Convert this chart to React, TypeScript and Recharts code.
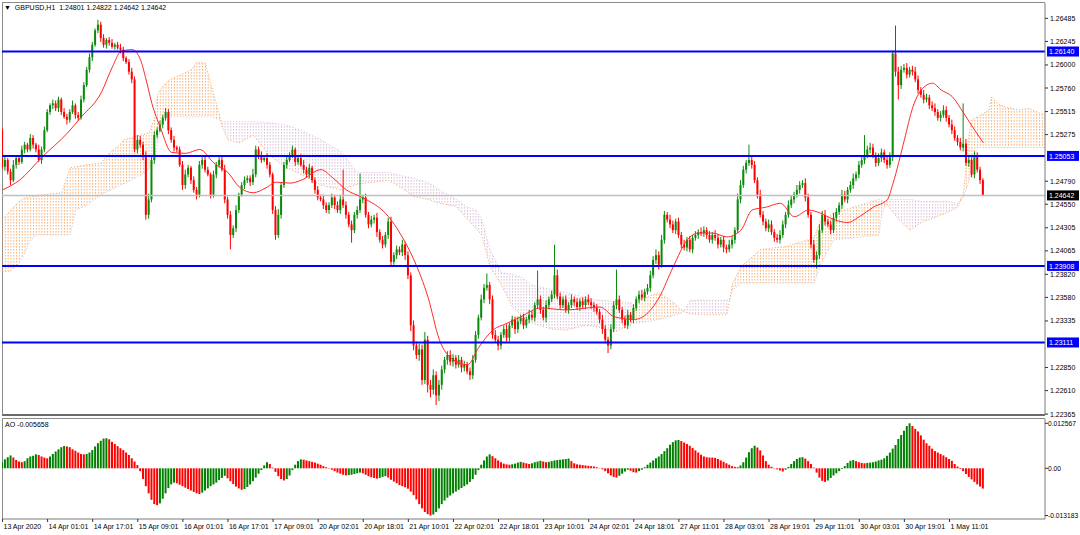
import React from 'react';
import { ComposedChart, Bar, Line, Area, XAxis, YAxis, ReferenceLine, Cell } from 'recharts';

// GBPUSD H1, 13 Apr 2020 - 1 May 2020
const firstOpen = 1.2532;

const closes = [
  1.2494, 1.2501, 1.2489, 1.2480, 1.2496, 1.2503, 1.2499, 1.2512, 1.2517, 1.2512, 1.2524, 1.2517, 1.2512, 1.2501, 1.2512, 1.2532, 1.2551, 1.2558, 1.2560, 1.2555,
  1.2564, 1.2551, 1.2546, 1.2543, 1.2551, 1.2558, 1.2548, 1.2545, 1.2564, 1.2579, 1.2595, 1.2608, 1.2621, 1.2636, 1.2642, 1.2628, 1.2621, 1.2626, 1.2623, 1.2619,
  1.2621, 1.2618, 1.2616, 1.2607, 1.2603, 1.2593, 1.2585, 1.2512, 1.2522, 1.2517, 1.2506, 1.2444, 1.2460, 1.2501, 1.2527, 1.2532, 1.2538, 1.2545, 1.2551, 1.2532,
  1.2522, 1.2514, 1.2512, 1.2496, 1.2475, 1.2486, 1.2493, 1.2480, 1.2470, 1.2465, 1.2496, 1.2501, 1.2491, 1.2486, 1.2465, 1.2486, 1.2496, 1.2501, 1.2491, 1.2460,
  1.2444, 1.2423, 1.2430, 1.2449, 1.2465, 1.2475, 1.2480, 1.2482, 1.2478, 1.2486, 1.2512, 1.2506, 1.2501, 1.2503, 1.2496, 1.2486, 1.2449, 1.2423, 1.2444, 1.2475,
  1.2496, 1.2501, 1.2506, 1.2512, 1.2499, 1.2503, 1.2496, 1.2491, 1.2486, 1.2493, 1.2480, 1.2470, 1.2462, 1.2460, 1.2454, 1.2449, 1.2454, 1.2462, 1.2454, 1.2449,
  1.2460, 1.2454, 1.2444, 1.2434, 1.2428, 1.2444, 1.2449, 1.2460, 1.2462, 1.2444, 1.2434, 1.2439, 1.2441, 1.2426, 1.2418, 1.2413, 1.2423, 1.2437, 1.2395, 1.2402,
  1.2408, 1.2405, 1.2413, 1.2402, 1.2381, 1.2329, 1.2308, 1.2298, 1.2304, 1.2272, 1.2314, 1.2267, 1.2262, 1.2277, 1.2256, 1.2267, 1.2283, 1.2293, 1.2298, 1.2291,
  1.2295, 1.2288, 1.2293, 1.2285, 1.2288, 1.2281, 1.2277, 1.2293, 1.2319, 1.2337, 1.2356, 1.2368, 1.2371, 1.2356, 1.2319, 1.2314, 1.2308, 1.2319, 1.2325, 1.2316,
  1.2329, 1.2335, 1.2325, 1.2333, 1.2337, 1.2329, 1.2335, 1.2340, 1.2337, 1.2350, 1.2356, 1.2345, 1.2337, 1.2350, 1.2356, 1.2361, 1.2381, 1.2359, 1.2350, 1.2356,
  1.2345, 1.2350, 1.2356, 1.2353, 1.2348, 1.2354, 1.2350, 1.2356, 1.2353, 1.2350, 1.2347, 1.2343, 1.2335, 1.2325, 1.2314, 1.2308, 1.2325, 1.2350, 1.2356, 1.2345,
  1.2335, 1.2329, 1.2340, 1.2335, 1.2347, 1.2356, 1.2361, 1.2358, 1.2364, 1.2368, 1.2381, 1.2397, 1.2402, 1.2392, 1.2418, 1.2444, 1.2439, 1.2434, 1.2428, 1.2437,
  1.2423, 1.2413, 1.2410, 1.2418, 1.2408, 1.2420, 1.2423, 1.2426, 1.2425, 1.2428, 1.2423, 1.2418, 1.2423, 1.2420, 1.2413, 1.2418, 1.2410, 1.2408, 1.2413, 1.2418,
  1.2428, 1.2460, 1.2475, 1.2491, 1.2498, 1.2501, 1.2496, 1.2480, 1.2465, 1.2444, 1.2437, 1.2430, 1.2434, 1.2426, 1.2420, 1.2418, 1.2423, 1.2434, 1.2444, 1.2454,
  1.2460, 1.2465, 1.2470, 1.2475, 1.2477, 1.2462, 1.2444, 1.2413, 1.2397, 1.2402, 1.2428, 1.2444, 1.2437, 1.2434, 1.2428, 1.2441, 1.2447, 1.2454, 1.2465, 1.2460,
  1.2470, 1.2475, 1.2482, 1.2486, 1.2496, 1.2501, 1.2506, 1.2512, 1.2514, 1.2506, 1.2498, 1.2503, 1.2509, 1.2501, 1.2496, 1.2504, 1.2612, 1.2593, 1.2579, 1.2595,
  1.2597, 1.2590, 1.2595, 1.2593, 1.2585, 1.2574, 1.2569, 1.2564, 1.2566, 1.2558, 1.2555, 1.2551, 1.2545, 1.2548, 1.2553, 1.2545, 1.2538, 1.2532, 1.2524, 1.2520,
  1.2514, 1.2518, 1.2498, 1.2501, 1.2486, 1.2505, 1.2491, 1.24801, 1.24642,
];

// wick lengths above / below the body, in pips
const upperWick = [
  3, 4, 2, 3, 5, 2, 3, 4, 3, 2, 4, 3, 2, 5, 3, 4, 3, 2, 4, 3,
  3, 2, 4, 3, 3, 5, 2, 3, 4, 3, 3, 4, 3, 2, 5, 3, 4, 2, 3, 4,
  2, 3, 4, 3, 2, 3, 4, 3, 5, 4, 3, 4, 6, 5, 4, 3, 4, 3, 4, 3,
  3, 4, 2, 3, 4, 5, 3, 2, 4, 3, 4, 3, 5, 3, 2, 4, 3, 3, 4, 5,
  3, 4, 3, 5, 2, 3, 4, 3, 3, 6, 4, 3, 4, 3, 5, 3, 2, 4, 6, 3,
  3, 4, 3, 4, 2, 3, 4, 5, 3, 4, 2, 3, 4, 3, 5, 3, 3, 4, 3, 4,
  5, 31, 4, 3, 4, 3, 4, 27, 3, 4, 3, 4, 3, 5, 3, 4, 3, 4, 5, 3,
  4, 3, 5, 3, 4, 3, 5, 4, 6, 5, 8, 4, 5, 6, 4, 5, 4, 3, 4, 5,
  4, 3, 5, 3, 4, 3, 4, 5, 4, 3, 5, 4, 12, 3, 4, 5, 4, 3, 4, 5,
  3, 4, 3, 5, 3, 4, 3, 5, 4, 3, 30, 4, 3, 5, 3, 4, 32, 6, 4, 3,
  4, 3, 5, 3, 4, 3, 4, 3, 5, 4, 3, 4, 3, 5, 4, 3, 5, 4, 31, 4,
  3, 4, 5, 3, 4, 3, 4, 5, 3, 4, 5, 4, 6, 4, 5, 4, 3, 5, 4, 3,
  4, 3, 5, 3, 4, 3, 4, 3, 5, 4, 3, 4, 3, 5, 4, 3, 4, 3, 5, 4,
  3, 6, 5, 4, 3, 16, 5, 4, 3, 5, 4, 3, 5, 4, 3, 4, 5, 4, 3, 5,
  4, 3, 5, 4, 3, 5, 4, 3, 5, 4, 6, 4, 5, 3, 4, 5, 4, 3, 5, 4,
  3, 4, 5, 3, 4, 5, 21, 4, 5, 4, 3, 5, 4, 3, 4, 5, 3, 29, 5, 4,
  4, 5, 3, 4, 5, 4, 3, 5, 4, 3, 4, 5, 3, 4, 5, 4, 3, 5, 4, 3,
  4, 42, 5, 4, 3, 5, 4, 3, 2,
];

const lowerWick = [
  3, 4, 3, 5, 2, 4, 3, 2, 4, 3, 2, 4, 3, 2, 4, 3, 2, 3, 4, 3,
  4, 3, 2, 5, 3, 2, 4, 3, 2, 3, 2, 3, 4, 2, 3, 4, 3, 4, 3, 2,
  3, 2, 4, 3, 2, 3, 4, 3, 4, 3, 5, 5, 4, 3, 4, 3, 2, 4, 3, 4,
  3, 4, 3, 2, 5, 4, 3, 4, 3, 5, 3, 4, 3, 2, 4, 3, 4, 3, 2, 4,
  4, 15, 3, 4, 3, 2, 4, 3, 4, 3, 3, 4, 3, 2, 4, 3, 4, 5, 3, 4,
  3, 4, 2, 3, 4, 3, 2, 4, 3, 4, 3, 4, 3, 2, 4, 3, 4, 3, 4, 3,
  4, 3, 4, 3, 13, 3, 4, 3, 4, 3, 4, 3, 4, 5, 3, 4, 3, 4, 5, 3,
  4, 3, 4, 5, 4, 6, 5, 4, 6, 5, 4, 8, 8, 5, 10, 6, 5, 4, 5, 4,
  5, 4, 3, 5, 4, 3, 5, 4, 3, 4, 3, 4, 3, 5, 4, 3, 5, 4, 3, 4,
  4, 3, 5, 4, 3, 4, 3, 4, 3, 4, 3, 4, 3, 5, 4, 3, 4, 3, 4, 3,
  3, 4, 3, 4, 3, 4, 3, 4, 3, 4, 4, 3, 4, 5, 4, 8, 4, 3, 4, 3,
  4, 3, 4, 3, 4, 3, 4, 3, 4, 3, 4, 3, 4, 5, 3, 4, 3, 4, 3, 4,
  3, 4, 3, 4, 3, 4, 3, 4, 3, 4, 4, 3, 4, 3, 4, 3, 5, 4, 3, 4,
  4, 3, 4, 3, 4, 3, 4, 3, 4, 3, 4, 3, 4, 3, 4, 3, 4, 3, 4, 3,
  3, 4, 3, 4, 3, 4, 3, 4, 3, 9, 4, 3, 4, 3, 4, 3, 4, 3, 4, 3,
  4, 3, 4, 3, 4, 3, 4, 3, 4, 3, 4, 3, 4, 3, 4, 3, 4, 5, 15, 4,
  3, 4, 3, 4, 3, 4, 3, 4, 3, 4, 3, 4, 3, 4, 3, 4, 3, 4, 3, 4,
  3, 4, 3, 4, 3, 4, 3, 4, 0,
];

// Awesome Oscillator, one value per bar
const aoValues = [
  0.0017, 0.0025, 0.0031, 0.0036, 0.0030, 0.0023, 0.0019, 0.0017, 0.0020, 0.0028, 0.0033, 0.0035, 0.0039, 0.0037, 0.0033, 0.0030, 0.0028, 0.0033, 0.0040, 0.0047,
  0.0053, 0.0059, 0.0062, 0.0061, 0.0059, 0.0053, 0.0049, 0.0044, 0.0040, 0.0039, 0.0040, 0.0044, 0.0051, 0.0061, 0.0070, 0.0077, 0.0083, 0.0084, 0.0081, 0.0074,
  0.0068, 0.0062, 0.0056, 0.0051, 0.0044, 0.0037, 0.0028, 0.0019, 0.0009, -0.0008, -0.0030, -0.0050, -0.0070, -0.0088, -0.0100, -0.0103, -0.0098, -0.0085, -0.0070, -0.0055,
  -0.0045, -0.0040, -0.0042, -0.0046, -0.0050, -0.0054, -0.0058, -0.0062, -0.0066, -0.0070, -0.0072, -0.0068, -0.0062, -0.0056, -0.0050, -0.0045, -0.0040, -0.0033, -0.0027, -0.0021,
  -0.0028, -0.0036, -0.0044, -0.0051, -0.0056, -0.0060, -0.0058, -0.0052, -0.0045, -0.0036, -0.0026, -0.0015, -0.0005, 0.0008, 0.0017, 0.0012, 0.0002, -0.0010, -0.0022, -0.0030,
  -0.0034, -0.0030, -0.0020, -0.0005, 0.0010, 0.0020, 0.0025, 0.0024, 0.0022, 0.0020, 0.0018, 0.0016, 0.0013, 0.0010, 0.0006, 0.0003, -0.0001, -0.0004, -0.0008, -0.0012,
  -0.0015, -0.0018, -0.0020, -0.0019, -0.0018, -0.0016, -0.0014, -0.0012, -0.0014, -0.0018, -0.0022, -0.0025, -0.0027, -0.0029, -0.0027, -0.0024, -0.0022, -0.0026, -0.0032, -0.0037,
  -0.0042, -0.0047, -0.0050, -0.0053, -0.0057, -0.0065, -0.0075, -0.0087, -0.0100, -0.0112, -0.0122, -0.0128, -0.013183, -0.0129, -0.0122, -0.0112, -0.0100, -0.0090, -0.0082, -0.0076,
  -0.0070, -0.0065, -0.0060, -0.0055, -0.0050, -0.0045, -0.0038, -0.0030, -0.0018, -0.0005, 0.0010, 0.0022, 0.0033, 0.0039, 0.0034, 0.0028, 0.0022, 0.0017, 0.0013, 0.0011,
  0.0010, 0.0011, 0.0013, 0.0016, 0.0018, 0.0016, 0.0014, 0.0012, 0.0014, 0.0017, 0.0019, 0.0021, 0.0019, 0.0017, 0.0018, 0.0020, 0.0022, 0.0023, 0.0024, 0.0025,
  0.0026, 0.0027, 0.0020, 0.0014, 0.0011, 0.0010, 0.0009, 0.0008, 0.0007, 0.0006, 0.0005, 0.0003, 0.0001, -0.0003, -0.0008, -0.0014, -0.0020, -0.0024, -0.0026, -0.0021,
  -0.0015, -0.0009, -0.0004, -0.0007, -0.0011, -0.0012, -0.0008, -0.0004, 0.0003, 0.0010, 0.0016, 0.0022, 0.0028, 0.0033, 0.0040, 0.0048, 0.0056, 0.0066, 0.0073, 0.0078,
  0.0079, 0.0076, 0.0072, 0.0068, 0.0063, 0.0057, 0.0050, 0.0044, 0.0038, 0.0033, 0.0031, 0.0030, 0.0030, 0.0029, 0.0026, 0.0022, 0.0018, 0.0014, 0.0010, 0.0006,
  0.0004, 0.0003, 0.0008, 0.0017, 0.0030, 0.0045, 0.0056, 0.0063, 0.0058, 0.0050, 0.0036, 0.0020, 0.0010, 0.0004, 0.0001, -0.0003, -0.0006, -0.0009, -0.0004, 0.0004,
  0.0012, 0.0020, 0.0026, 0.0030, 0.0031, 0.0027, 0.0020, 0.0012, 0.0002, -0.0012, -0.0026, -0.0035, -0.0038, -0.0034, -0.0027, -0.0020, -0.0014, -0.0008, -0.0002, 0.0006,
  0.0015, 0.0021, 0.0023, 0.0020, 0.0017, 0.0015, 0.0014, 0.0015, 0.0016, 0.0017, 0.0019, 0.0022, 0.0024, 0.0028, 0.0035, 0.0044, 0.0055, 0.0065, 0.0082, 0.0093,
  0.0105, 0.0118, 0.012567, 0.0118, 0.0110, 0.0103, 0.0092, 0.0080, 0.0070, 0.0063, 0.0055, 0.0048, 0.0044, 0.0040, 0.0036, 0.0031, 0.0026, 0.0021, 0.0012, 0.0005,
  -0.0002, -0.0008, -0.0016, -0.0024, -0.0031, -0.0038, -0.0045, -0.0051, -0.005658,
];

// moving average: [bar, price]
const maPoints: [number, number][] = [
  [0, 1.2470], [6, 1.2480], [14, 1.2504], [23, 1.2529], [28, 1.2546], [35, 1.2571], [39, 1.2598], [42, 1.2614],
  [46, 1.2616], [49, 1.2605], [51, 1.2584], [53, 1.2560], [56, 1.2535], [60, 1.2509], [65, 1.2508], [70, 1.2512],
  [75, 1.2498], [80, 1.2488], [84, 1.2473], [89, 1.2467], [94, 1.2473], [97, 1.2478], [102, 1.2477], [106, 1.2480],
  [113, 1.2491], [117, 1.2483], [122, 1.2470], [127, 1.2463], [129, 1.2460], [137, 1.2442], [141, 1.2425], [146, 1.2397],
  [151, 1.2358], [155, 1.2314], [160, 1.2293], [165, 1.2288], [169, 1.2306], [174, 1.2324], [179, 1.2331], [184, 1.2338],
  [191, 1.2347], [200, 1.2345], [212, 1.2348], [217, 1.2338], [224, 1.2335], [229, 1.2342], [233, 1.2358], [238, 1.2390],
  [243, 1.2418], [247, 1.2425], [252, 1.2425], [257, 1.2421], [262, 1.2428], [266, 1.2449], [271, 1.2452], [276, 1.2456],
  [281, 1.2442], [286, 1.2449], [290, 1.2446], [295, 1.2439], [300, 1.2436], [304, 1.2442], [309, 1.2452], [314, 1.2460],
  [316, 1.2477], [320, 1.2522], [323, 1.2556], [327, 1.2577], [330, 1.2581], [333, 1.2574], [337, 1.2567], [341, 1.2550],
  [345, 1.2532], [348, 1.2519],
];

// Ichimoku cloud (senkou span A / B), shifted 26 bars ahead
const cloudIndex = [
  0, 3, 6, 8, 10, 12, 15, 21, 24, 26, 30, 35, 37, 42, 43, 49, 52, 54, 55, 57, 59, 67, 69, 72, 74, 77, 78, 80, 84, 89,
  94, 100, 106, 113, 120, 126, 137, 141, 146, 151, 155, 161, 165, 168, 170, 173, 177, 181, 184, 188, 195, 200, 207, 212, 217,
  223, 224, 225, 233, 237, 241, 242, 244, 248, 257, 258, 259, 262, 269, 278, 286, 288, 290, 295, 302, 311, 312, 314, 318, 322,
  326, 335, 339, 341, 343, 344, 346, 350, 351, 353, 356, 361, 364, 368, 372,
];
const spanA = [
  1.2439, 1.2449, 1.2458, 1.2462, 1.2463, 1.2464, 1.2465, 1.2467, 1.2493, 1.2494, 1.2496, 1.2498, 1.2506, 1.2518, 1.2522,
  1.2527, 1.2529, 1.2545, 1.2569, 1.2578, 1.2584, 1.2595, 1.2603, 1.2602, 1.2579, 1.2548, 1.2535, 1.2522, 1.2519, 1.2527,
  1.2508, 1.2494, 1.2486, 1.2475, 1.2470, 1.2476, 1.2480, 1.2473, 1.2463, 1.2460, 1.2456, 1.2453, 1.2439, 1.2430, 1.2423,
  1.2390, 1.2371, 1.2348, 1.2340, 1.2331, 1.2325, 1.2324, 1.2329, 1.2327, 1.2322, 1.2329, 1.2342, 1.2355, 1.2363, 1.2355,
  1.2345, 1.2343, 1.2341, 1.2340, 1.2340, 1.2355, 1.2372, 1.2390, 1.2408, 1.2411, 1.2418, 1.2421, 1.2436, 1.2446, 1.2452,
  1.2460, 1.2459, 1.2454, 1.2439, 1.2428, 1.2436, 1.2446, 1.2452, 1.2466, 1.2530, 1.2543, 1.2546, 1.2553, 1.2567, 1.2560,
  1.2556, 1.2553, 1.2555, 1.2550, 1.2546,
];
const spanB = [
  1.2385, 1.2385, 1.2394, 1.2405, 1.2418, 1.2423, 1.2423, 1.2423, 1.2423, 1.2449, 1.2454, 1.2465, 1.2468, 1.2475, 1.2476,
  1.2485, 1.2492, 1.2501, 1.2520, 1.2543, 1.2546, 1.2546, 1.2546, 1.2546, 1.2546, 1.2543, 1.2541, 1.2541, 1.2541, 1.2541,
  1.2540, 1.2538, 1.2532, 1.2522, 1.2510, 1.2488, 1.2488, 1.2485, 1.2482, 1.2478, 1.2470, 1.2460, 1.2452, 1.2449, 1.2440,
  1.2408, 1.2384, 1.2382, 1.2379, 1.2371, 1.2366, 1.2363, 1.2358, 1.2355, 1.2354, 1.2353, 1.2342, 1.2331, 1.2335, 1.2338,
  1.2342, 1.2345, 1.2355, 1.2355, 1.2355, 1.2355, 1.2365, 1.2373, 1.2373, 1.2373, 1.2373, 1.2373, 1.2390, 1.2418, 1.2420,
  1.2423, 1.2445, 1.2460, 1.2460, 1.2460, 1.2458, 1.2458, 1.2456, 1.2462, 1.2480, 1.2495, 1.2514, 1.2514, 1.2514, 1.2514,
  1.2514, 1.2514, 1.2514, 1.2514, 1.2514,
];

const levels = [1.2614, 1.25053, 1.23908, 1.23111];
const bidPrice = 1.24642;
const priceTicks = [1.26485, 1.26245, 1.26, 1.2576, 1.25515, 1.25275, 1.2479, 1.2455, 1.24305, 1.24065, 1.2382, 1.2358, 1.23335, 1.2285, 1.2261, 1.22365];
const aoTicks = [0.012567, 0, -0.013183];
const aoTickLabels = ['0.012567', '0.00', '-0.013183'];
const timeLabels = [
  '13 Apr 2020', '14 Apr 01:01', '14 Apr 17:01', '15 Apr 09:01', '16 Apr 01:01', '16 Apr 17:01', '17 Apr 09:01',
  '20 Apr 02:01', '20 Apr 18:01', '21 Apr 10:01', '22 Apr 02:01', '22 Apr 18:01', '23 Apr 10:01', '24 Apr 02:01',
  '24 Apr 18:01', '27 Apr 11:01', '28 Apr 03:01', '28 Apr 19:01', '29 Apr 11:01', '30 Apr 03:01', '30 Apr 19:01', '1 May 11:01',
];
const barsPerLabel = 16;

const bars = closes.map((close, i) => {
  const open = i === 0 ? firstOpen : closes[i - 1];
  return {
    i, open, close,
    high: Math.max(open, close) + upperWick[i] / 10000,
    low: Math.min(open, close) - lowerWick[i] / 10000,
  };
});

let rising = true;
const aoRows = aoValues.map((v, i) => {
  if (i > 0 && v > aoValues[i - 1]) rising = true;
  else if (i > 0 && v < aoValues[i - 1]) rising = false;
  return { i, ao: v, up: rising };
});

const cloudRows = cloudIndex.map((i, k) => {
  const a = spanA[k];
  const b = spanB[k];
  const top = Math.max(a, b);
  return { i, a, b, bull: [b, top], bear: [a, top] };
});

const maRows = maPoints.map(([i, ma]) => ({ i, ma }));
const timeTicks = timeLabels.map((_, k) => k * barsPerLabel);

const W = 1080;
const MAIN_H = 418;
const X_DOMAIN: [number, number] = [-0.18, 369.9];
const PRICE_DOMAIN: [number, number] = [1.22356, 1.26645];
const AO_DOMAIN: [number, number] = [-0.014158, 0.013767];
const BULL = '#0b8a0b';
const BEAR = '#ff0000';
const FONT = "'Liberation Sans', Arial, sans-serif";
const hiddenMargin = { top: 3, right: 35, bottom: 3, left: 2 };

const Candle = (props: any) => {
  const { x, y, width, height, payload } = props;
  if (!payload || height == null) return null;
  const top = Math.min(y, y + height);
  const span = Math.abs(height);
  const { open, close, high, low } = payload;
  const k = high > low ? span / (high - low) : 0;
  const cx = x + width / 2;
  const color = close >= open ? BULL : BEAR;
  const yo = top + (high - open) * k;
  const yc = top + (high - close) * k;
  return (
    <g>
      <line x1={cx} x2={cx} y1={top} y2={top + span} stroke={color} strokeWidth={1} />
      <rect x={cx - 1} y={Math.min(yo, yc)} width={2} height={Math.max(1, Math.abs(yc - yo))} fill={color} />
    </g>
  );
};

const PriceTag = ({ viewBox, text, bg }: any) => {
  if (!viewBox) return null;
  const left = viewBox.x + viewBox.width + 2;
  return (
    <g>
      <rect x={left} y={viewBox.y - 5} width={32} height={10} fill={bg} />
      <text x={left + 2} y={viewBox.y + 2.6} fontSize={7} fontFamily={FONT} fill="#fff">{text}</text>
    </g>
  );
};

const PriceTick = ({ x, y, payload }: any) => (
  <text x={x} y={y + 2.5} fontSize={7} fontFamily={FONT} fill="#000" textAnchor="start">
    {payload.value.toFixed(5)}
  </text>
);

const AoTick = ({ x, y, payload }: any) => (
  <text x={x - 2} y={y + 2.5} fontSize={6.7} fontFamily={FONT} fill="#000" textAnchor="start">
    {aoTickLabels[aoTicks.indexOf(payload.value)]}
  </text>
);

const TimeTick = ({ x, y, payload }: any) => (
  <text x={x + 1} y={y + 6} fontSize={7} fontFamily={FONT} fill="#000" textAnchor="start">
    {timeLabels[payload.value / barsPerLabel]}
  </text>
);

const layer: React.CSSProperties = { position: 'absolute', left: 0, top: 0 };

export default function App() {
  return (
    <div style={{ position: 'relative', width: W, height: 535, background: '#fff', overflow: 'hidden', fontFamily: FONT }}>
      <style>{'body{margin:0}'}</style>
      <div style={{ position: 'absolute', left: 2, top: 2, width: 1043, height: 414, boxSizing: 'border-box', borderTop: '1px solid #8a8a8a', borderLeft: '1px solid #8a8a8a', borderBottom: '2px solid #6a6a6a' }} />
      <div style={{ position: 'absolute', left: 2, top: 418, width: 1043, height: 101, boxSizing: 'border-box', borderTop: '1px solid #8a8a8a', borderLeft: '1px solid #8a8a8a' }} />

      {/* cloud */}
      <div style={layer}>
        <ComposedChart width={W} height={MAIN_H} data={cloudRows} margin={hiddenMargin}>
          <defs>
            <pattern id="kumoUp" patternUnits="userSpaceOnUse" x={2} y={0} width={2.818} height={3}>
              <rect x={0} y={0} width={1} height={1.6} fill="#F4A460" />
            </pattern>
            <pattern id="kumoDown" patternUnits="userSpaceOnUse" x={2} y={0} width={2.818} height={3}>
              <rect x={0} y={0} width={1} height={1.6} fill="#D8BFD8" />
            </pattern>
          </defs>
          <XAxis type="number" dataKey="i" domain={X_DOMAIN} allowDataOverflow hide />
          <YAxis type="number" domain={PRICE_DOMAIN} allowDataOverflow hide />
          <Area dataKey="bull" type="linear" stroke="none" fill="url(#kumoUp)" fillOpacity={0.85} isAnimationActive={false} />
          <Area dataKey="bear" type="linear" stroke="none" fill="url(#kumoDown)" fillOpacity={1} isAnimationActive={false} />
          <Line dataKey="a" type="linear" stroke="#F4A460" strokeWidth={1} strokeDasharray="1 2" dot={false} isAnimationActive={false} />
          <Line dataKey="b" type="linear" stroke="#D8BFD8" strokeWidth={1} strokeDasharray="1 2" dot={false} isAnimationActive={false} />
        </ComposedChart>
      </div>

      {/* candles */}
      <div style={layer}>
        <ComposedChart width={W} height={MAIN_H} data={bars} margin={hiddenMargin}>
          <XAxis type="number" dataKey="i" domain={X_DOMAIN} allowDataOverflow hide />
          <YAxis type="number" domain={PRICE_DOMAIN} allowDataOverflow hide />
          <ReferenceLine y={bidPrice} stroke="#c0c0c0" strokeWidth={1.5} />
          <Bar dataKey={(d: any) => [d.low, d.high]} barSize={2} shape={Candle} isAnimationActive={false} />
        </ComposedChart>
      </div>

      {/* MA, levels, price scale */}
      <div style={layer}>
        <ComposedChart width={W} height={MAIN_H} data={maRows} margin={{ top: 3, right: 0, bottom: 3, left: 2 }}>
          <XAxis type="number" dataKey="i" domain={X_DOMAIN} allowDataOverflow hide />
          <YAxis
            type="number" orientation="right" width={35} domain={PRICE_DOMAIN} allowDataOverflow
            ticks={priceTicks} interval={0} tickSize={3} tickMargin={2}
            axisLine={{ stroke: '#7a7a7a' }} tickLine={{ stroke: '#333' }} tick={<PriceTick />}
          />
          <Line dataKey="ma" type="monotone" stroke="#ff2a2a" strokeWidth={1} dot={false} isAnimationActive={false} />
          {levels.map((p) => (
            <ReferenceLine key={p} y={p} stroke="#0000ff" strokeWidth={2}
              label={(lp: any) => <PriceTag {...lp} text={p.toFixed(5)} bg="#0000ff" />} />
          ))}
          <ReferenceLine y={bidPrice} stroke="none"
            label={(lp: any) => <PriceTag {...lp} text={bidPrice.toFixed(5)} bg="#000" />} />
        </ComposedChart>
      </div>

      {/* Awesome Oscillator */}
      <div style={{ position: 'absolute', left: 0, top: 419 }}>
        <ComposedChart width={W} height={116} data={aoRows} margin={{ top: 0, right: 0, bottom: 0, left: 2 }}>
          <XAxis
            type="number" dataKey="i" domain={X_DOMAIN} allowDataOverflow height={16}
            ticks={timeTicks} interval={0} tickSize={3} tickMargin={1}
            axisLine={{ stroke: '#7a7a7a' }} tickLine={{ stroke: '#333' }} tick={<TimeTick />}
          />
          <YAxis
            type="number" orientation="right" width={35} domain={AO_DOMAIN} allowDataOverflow
            ticks={aoTicks} interval={0} tickSize={3} tickMargin={2}
            axisLine={{ stroke: '#7a7a7a' }} tickLine={{ stroke: '#333' }} tick={<AoTick />}
          />
          <Bar dataKey="ao" barSize={2} isAnimationActive={false}>
            {aoRows.map((r) => (
              <Cell key={r.i} fill={r.up ? '#008000' : '#ff0000'} />
            ))}
          </Bar>
        </ComposedChart>
      </div>

      <div style={{ position: 'absolute', left: 4, top: 3, fontSize: 7, lineHeight: '9px', color: '#000', whiteSpace: 'pre' }}>
        {'\u25BC  GBPUSD,H1  1.24801 1.24822 1.24642 1.24642'}
      </div>
      <div style={{ position: 'absolute', left: 5, top: 420, fontSize: 7, lineHeight: '9px', color: '#000', whiteSpace: 'pre' }}>
        {'AO -0.005658'}
      </div>
    </div>
  );
}
